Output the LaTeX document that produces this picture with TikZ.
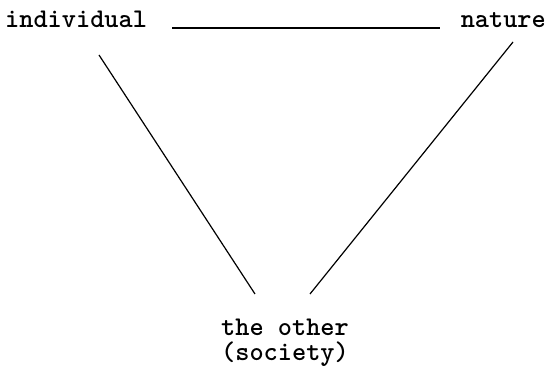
\documentclass[tikz,border=0pt]{standalone}
\begin{document}
\begin{tikzpicture}[x=1pt,y=1pt,
  lbl/.style={font=\ttfamily\bfseries\fontsize{27}{22}\selectfont, inner sep=0pt},
  conn/.style={line width=1.2pt}]
\useasboundingbox (0,0) rectangle (549,369);
\node[lbl, anchor=base west] (ind) at (5,341) {individual};
\node[lbl, anchor=base east] (nat) at (546,341) {nature};
\node[lbl, anchor=base] (oth) at (285,33) {the other};
\node[lbl, anchor=base] (soc) at (285,8) {(society)};
\coordinate (h1) at (172,341);
\coordinate (h2) at (440,341);
\coordinate (l1) at (99,314);
\coordinate (l2) at (255,75);
\coordinate (r1) at (513,327);
\coordinate (r2) at (310,75);
\draw[conn] (h1) -- (h2);
\draw[conn] (l1) -- (l2);
\draw[conn] (r1) -- (r2);
\end{tikzpicture}
\end{document}
